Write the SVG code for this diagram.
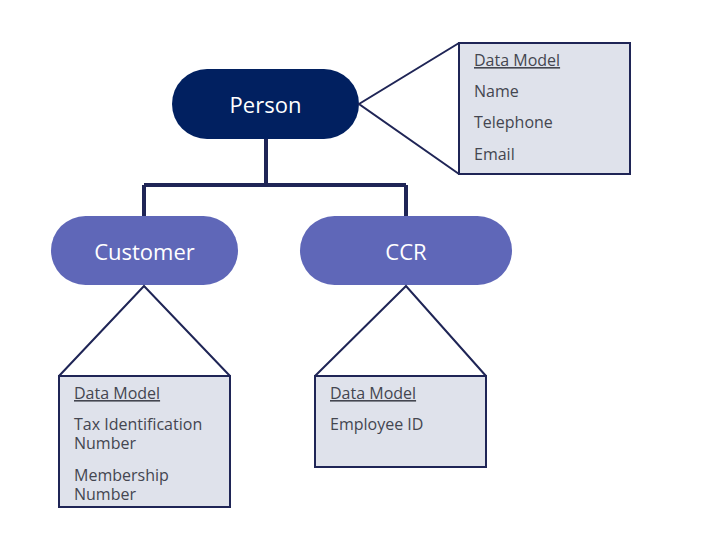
<svg xmlns="http://www.w3.org/2000/svg" width="702" height="552" viewBox="0 0 702 552">
<style>
.pill-text{font-family:"Open Sans","Noto Sans",sans-serif;font-size:22px;fill:#ffffff;text-anchor:middle;dominant-baseline:central}
.box{fill:#dfe2eb;stroke:#1f2556;stroke-width:2}
.tri{fill:none;stroke:#1f2556;stroke-width:2}
.item{font-family:"Open Sans","Noto Sans",sans-serif;font-size:16px;fill:#444650}
.hdr{text-decoration:underline}
.conn{fill:none;stroke:#1f2556;stroke-width:4}
</style>
<rect width="702" height="552" fill="#ffffff"/>
<g id="connectors">
<path class="conn" d="M266 139 V185 M144 185 H406 M144 185 V216 M406 185 V216"/>
</g>
<g id="person">
<rect x="172" y="69" width="187" height="70" rx="35" fill="#012060"/>
<text class="pill-text" x="265.5" y="104">Person</text>
</g>
<g id="person-model">
<path class="tri" d="M459 43 L359 104 L459 174"/>
<rect class="box" x="459" y="43" width="171" height="131"/>
<text class="item hdr" x="474" y="66">Data Model</text>
<text class="item" x="474" y="97">Name</text>
<text class="item" x="474" y="128">Telephone</text>
<text class="item" x="474" y="160">Email</text>
</g>
<g id="customer">
<rect x="51" y="216" width="187" height="69" rx="34.5" fill="#5f67b8"/>
<text class="pill-text" x="144.5" y="251">Customer</text>
</g>
<g id="ccr">
<rect x="300" y="216" width="212" height="69" rx="34.5" fill="#5f67b8"/>
<text class="pill-text" x="406" y="251">CCR</text>
</g>
<g id="customer-model">
<path class="tri" d="M59 376 L144 286 L230 376"/>
<rect class="box" x="59" y="376" width="171" height="131"/>
<text class="item hdr" x="74" y="399">Data Model</text>
<text class="item" x="74" y="430">Tax Identification</text>
<text class="item" x="74" y="449">Number</text>
<text class="item" x="74" y="481">Membership</text>
<text class="item" x="74" y="500">Number</text>
</g>
<g id="ccr-model">
<path class="tri" d="M315 376 L406 286 L486 376"/>
<rect class="box" x="315" y="376" width="171" height="91"/>
<text class="item hdr" x="330" y="399">Data Model</text>
<text class="item" x="330" y="430">Employee ID</text>
</g>
</svg>
